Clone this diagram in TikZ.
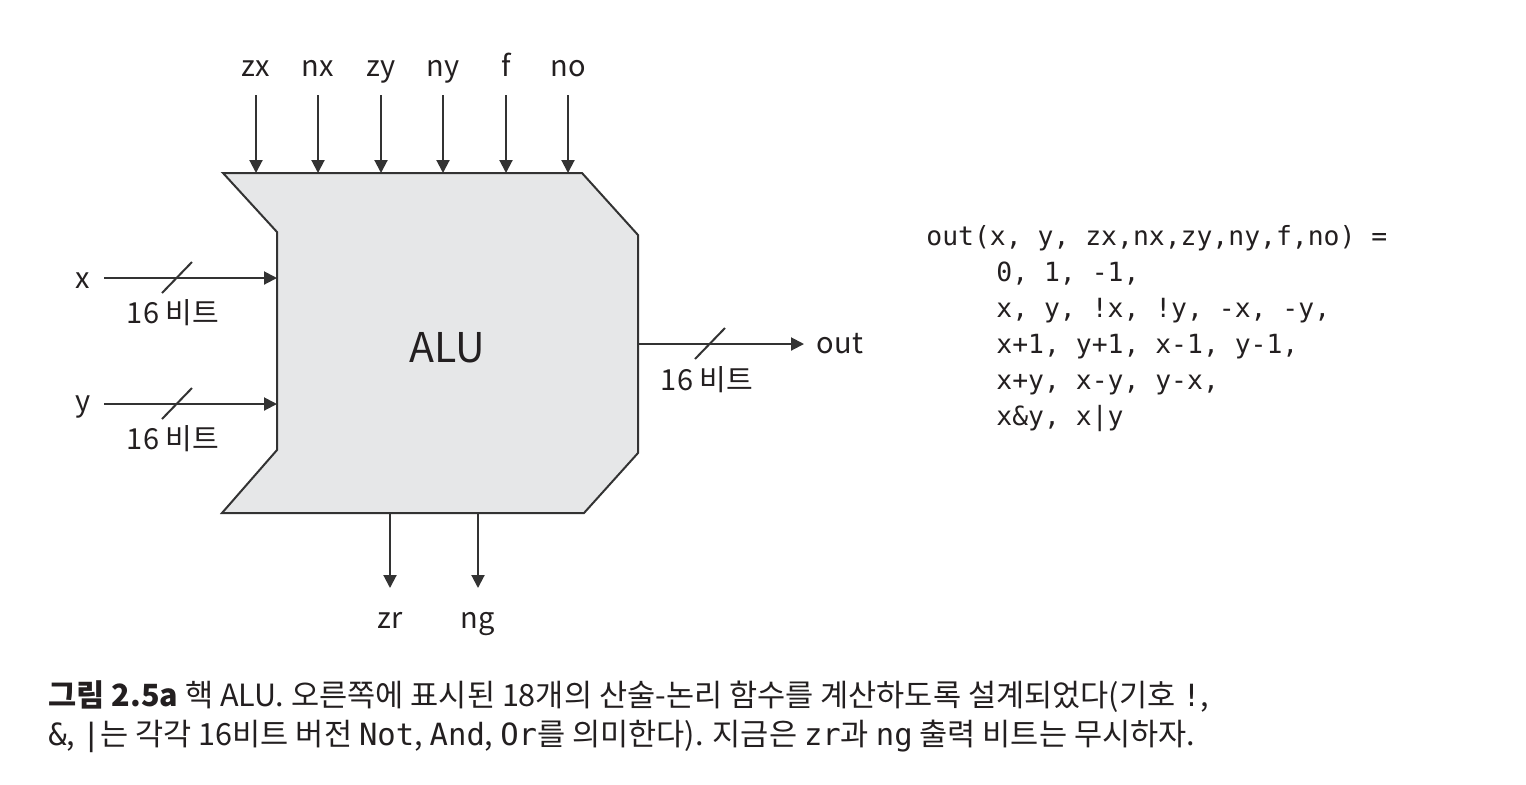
\documentclass[tikz,border=0pt]{standalone}
\usepackage{fontspec}
\setmainfont{Noto Sans CJK KR}
\newfontfamily\codefont{DejaVu Sans Mono}
\usetikzlibrary{arrows.meta}

\definecolor{alufill}{HTML}{E6E7E8}
\definecolor{wire}{HTML}{333333}
\definecolor{ink}{HTML}{231F20}

\tikzset{
  sig/.style={draw=wire, line width=1pt, -{Triangle[length=6.5pt,width=6.5pt]}},
  lbl/.style={text=ink, inner sep=0pt, font=\fontsize{14.5}{17}\selectfont},
  code/.style={text=ink, inner sep=0pt, font=\codefont\fontsize{13.2}{18}\selectfont},
  capt/.style={text=ink, inner sep=0pt, anchor=base west, font=\fontsize{15.3}{19}\selectfont}
}
\newcommand\busmark[1]{\draw[draw=wire, line width=1pt] ([shift={(-15,15)}]#1) -- ([shift={(15,-16)}]#1);}

\begin{document}
\begin{tikzpicture}[x=0.5pt, y=-0.5pt]
\useasboundingbox (0,0) rectangle (1526,784);

% ALU body
\draw[draw=wire, line width=1pt, fill=alufill]
  (223,173) -- (582,173) -- (638,235) -- (638,453) -- (584,513)
  -- (222,513) -- (277,450) -- (277,232) -- cycle;
\node[text=ink, font=\fontsize{20.5}{24}\selectfont] (alu) at (447,348) {ALU};

% control bits
\foreach \n/\x in {zx/256, nx/318, zy/381, ny/443, f/506, no/568} {
  \node[lbl, anchor=base] (\n) at (\x,76) {\n};
  \coordinate (\n-tail) at (\x,95);
  \coordinate (\n-in) at (\x,173);
  \draw[sig] (\n-tail) -- (\n-in);
}

% data inputs
\node[lbl, anchor=base] (x) at (83,288) {x};
\node[lbl, anchor=base] (y) at (83,411) {y};
\coordinate (x-tail) at (104,278);
\coordinate (x-in) at (277,278);
\coordinate (y-tail) at (104,404);
\coordinate (y-in) at (277,404);
\draw[sig] (x-tail) -- (x-in);
\draw[sig] (y-tail) -- (y-in);
\coordinate (x-bus) at (177,278);
\coordinate (y-bus) at (177,404);
\busmark{x-bus}
\busmark{y-bus}
\node[lbl] (x-width) at (173,313) {16 비트};
\node[lbl] (y-width) at (173,439) {16 비트};

% output
\coordinate (out-src) at (638,344);
\coordinate (out-tip) at (804,344);
\draw[sig] (out-src) -- (out-tip);
\node[lbl, anchor=base] (out) at (840,353) {out};
\coordinate (out-bus) at (710,344);
\busmark{out-bus}
\node[lbl] (out-width) at (707,380) {16 비트};

% status bits
\foreach \n/\x in {zr/390, ng/478} {
  \coordinate (\n-src) at (\x,513);
  \coordinate (\n-tip) at (\x,588);
  \draw[sig] (\n-src) -- (\n-tip);
  \node[lbl, anchor=base] (\n) at (\x,628) {\n};
}

% function list
\node[code, anchor=base west] (fn) at (926,245) {out(x, y, zx,nx,zy,ny,f,no) =};
\foreach \t [count=\i] in {{0, 1, -1,}, {x, y, !x, !y, -x, -y,},
    {x+1, y+1, x-1, y-1,}, {x+y, x-y, y-x,}, {x\&y, x|y}} {
  \node[code, anchor=base west] (fn\i) at (996,{245+\i*36}) {\t};
}

% caption
\node[capt] (cap1) at (48,706) {{\bfseries 그림 2.5a} 핵 ALU. 오른쪽에 표시된 18개의 산술-논리 함수를 계산하도록 설계되었다(기호 {\codefont !},};
\node[capt] (cap2) at (48,745) {{\codefont\&}, {\codefont|}는 각각 16비트 버전 {\codefont Not}, {\codefont And}, {\codefont Or}를 의미한다). 지금은 {\codefont zr}과 {\codefont ng} 출력 비트는 무시하자.};
\end{tikzpicture}
\end{document}
